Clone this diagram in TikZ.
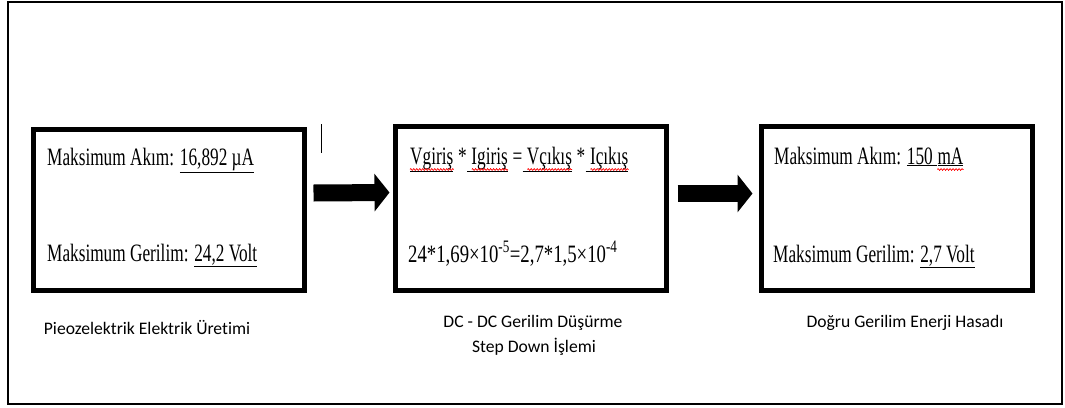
\documentclass[tikz,border=0pt]{standalone}
\usepackage{fontspec}
\setmainfont{Liberation Serif}
\newfontfamily\boxfont[FakeStretch=0.69]{Liberation Serif}
\newfontfamily\eqfont[FakeStretch=0.75]{Liberation Serif}
\newfontfamily\lblfont[Ligatures=NoCommon]{Carlito}
\usetikzlibrary{arrows.meta,calc,decorations.pathmorphing}
\tikzset{
  box/.style={draw=black, line width=5pt, inner sep=0pt},
  frame/.style={draw=black, line width=2pt, inner sep=0pt},
  txt/.style={anchor=base west, inner sep=0pt, font=\boxfont\fontsize{25}{29}\selectfont},
  eqtxt/.style={anchor=base west, inner sep=0pt, font=\eqfont\fontsize{25}{29}\selectfont},
  lbl/.style={anchor=base, inner sep=0pt, font=\lblfont\fontsize{17.6}{21}\selectfont},
  blk/.style={line width=17pt, -{Triangle[length=15pt,width=37pt]}},
  sqg/.style={draw=red, line width=0.7pt, decorate, decoration={zigzag, segment length=3pt, amplitude=0.9pt}},
}
\begin{document}
\begin{tikzpicture}[x=1pt,y=-1pt]
\useasboundingbox (0,0) rectangle (1065,407);
\node[frame, minimum width=1054pt, minimum height=402.5pt] (frame) at (535,202.75) {};
% boxes
\node[box, minimum width=271pt, minimum height=161pt] (b1) at (169,210) {};
\node[box, minimum width=271pt, minimum height=164pt] (b2) at (531,208.5) {};
\node[box, minimum width=271pt, minimum height=164pt] (b3) at (897,208.5) {};
% block arrows
\draw[blk] ($(b1.east)+(6.5,-17)$) -- ($(b2.west)+(-3.5,-16)$);
\draw[blk] ($(b2.east)+(8.5,-15)$) -- ($(b3.west)+(-6.5,-15)$);
% cursor mark
\coordinate (c1) at (321,124);
\coordinate (c2) at (321,153);
\draw[line width=1pt] (c1) -- (c2);
% box 1
\node[txt] (t1a) at (47,165) {Maksimum Akım: \underline{16,892 µA}};
\node[txt] (t1b) at (47,261) {Maksimum Gerilim: \underline{24,2 Volt}};
% box 2
\node[txt] (w1) at (410,164) {\underline{Vgiriş}};
\node[txt] (s1) at (w1.base east) {~*};
\node[txt] (w2) at (s1.base east) {\underline{~Igiriş}};
\node[txt] (s2) at (w2.base east) {~=};
\node[txt] (w3) at (s2.base east) {\underline{~Vçıkış}};
\node[txt] (s3) at (w3.base east) {~*};
\node[txt] (w4) at (s3.base east) {\underline{~Içıkış}};
\draw[sqg] ($(w1.base west)+(0,5.5)$) -- ($(w1.base east)+(0,5.5)$);
\foreach \w in {w2,w3,w4}
  \draw[sqg] ($(\w.base west)+(5,5.5)$) -- ($(\w.base east)+(0,5.5)$);
\node[eqtxt] (t2b) at (408,262) {24*1,69×10\textsuperscript{-5}=2,7*1,5×10\textsuperscript{-4}};
% box 3
\node[txt] (t3a) at (774,164) {Maksimum Akım: \underline{150~}};
\node[txt] (t3m) at (t3a.base east) {\underline{mA}};
\draw[sqg] ($(t3m.base west)+(0,5.5)$) -- ($(t3m.base east)+(0,5.5)$);
\node[txt] (t3b) at (773,262) {Maksimum Gerilim: \underline{2,7 Volt}};
% labels
\node[lbl] (l1) at (147,334) {Pieozelektrik Elektrik Üretimi};
\node[lbl] (l2a) at (533,327) {DC - DC Gerilim Düşürme};
\node[lbl] (l2b) at (534,352) {Step Down İşlemi};
\node[lbl] (l3) at (905,327) {Doğru Gerilim Enerji Hasadı};
\end{tikzpicture}
\end{document}
